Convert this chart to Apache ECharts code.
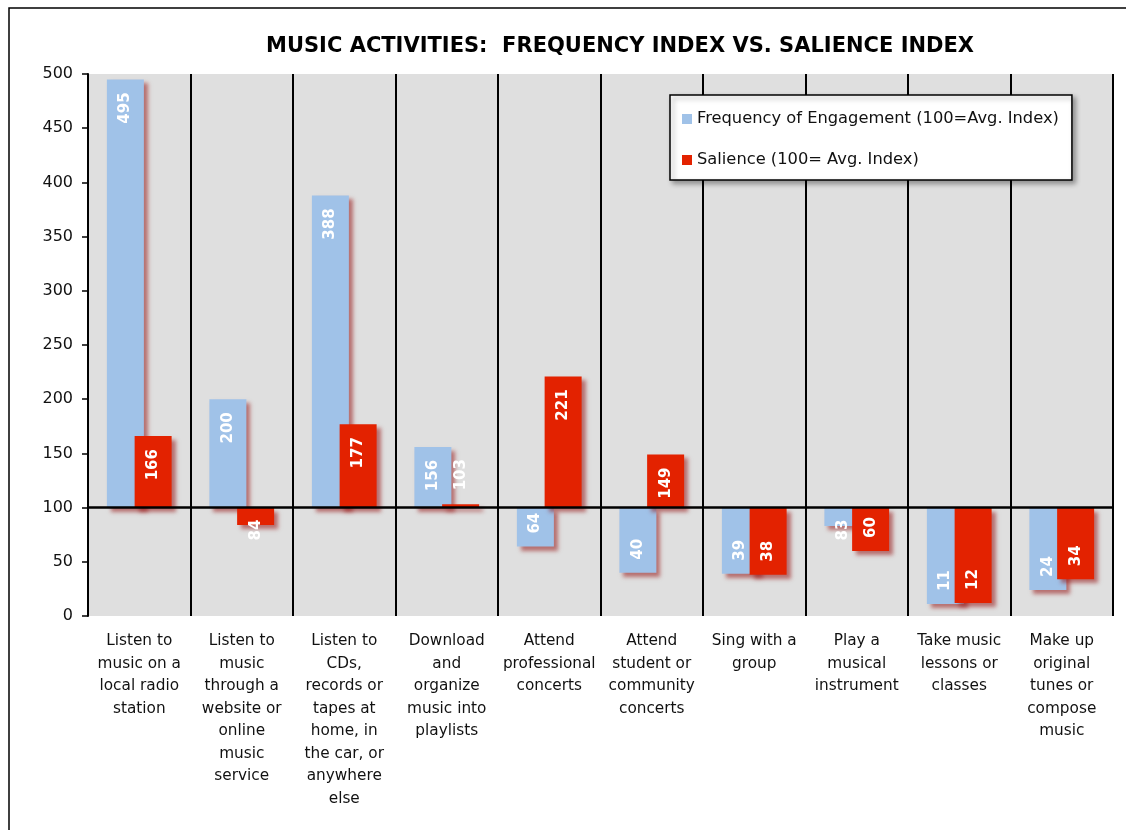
<!DOCTYPE html>
<html>
<head>
<meta charset="utf-8">
<script src="https://cdn.jsdelivr.net/npm/echarts@6/dist/echarts.min.js"></script>
<style>
html,body{margin:0;padding:0;background:#fff;}
#chart{width:1126px;height:830px;}
</style>
</head>
<body>
<div id="chart"></div>
<script>
const categories = [
  "Listen to\nmusic on a\nlocal radio\nstation",
  "Listen to\nmusic\nthrough a\nwebsite or\nonline\nmusic\nservice",
  "Listen to\nCDs,\nrecords or\ntapes at\nhome, in\nthe car, or\nanywhere\nelse",
  "Download\nand\norganize\nmusic into\nplaylists",
  "Attend\nprofessional\nconcerts",
  "Attend\nstudent or\ncommunity\nconcerts",
  "Sing with a\ngroup",
  "Play a\nmusical\ninstrument",
  "Take music\nlessons or\nclasses",
  "Make up\noriginal\ntunes or\ncompose\nmusic"
];
const frequencyIndex = [495, 200, 388, 156, 64, 40, 39, 83, 11, 24];
const salienceIndex  = [166, 84, 177, 103, 221, 149, 38, 60, 12, 34];
const baseline = 100;
const seriesNames = ["Frequency of Engagement (100=Avg. Index)", "Salience (100= Avg. Index)"];
const yTicks = {min: 0, max: 500, interval: 50};

const FONT = "DejaVu Sans";
const colors = ["#a0c2e8", "#e32200"];

function baseData(vals){ return vals.map(v => Math.min(v, baseline)); }
function deltaData(vals){
  return vals.map(v => {
    const d = Math.abs(v - baseline);
    const up = v >= baseline;
    const short = d < 20;
    let label;
    if (up && !short) label = {position:'insideTop', align:'right', distance:13};
    else if (up && short) label = {position:'top', align:'left', distance:14};
    else if (!up && !short) label = {position:'insideBottom', align:'left', distance:13};
    else label = {position:'insideTop', align:'right', distance:12};
    return {value: d, orig: v, label: label};
  });
}

function makeSeries(vals, idx){
  const stack = 's' + idx;
  return [
    {
      type:'bar', name:'base'+idx, stack: stack, barWidth: 37, barGap:'-25%',
      data: baseData(vals), silent:true,
      itemStyle:{color:'rgba(0,0,0,0)'},
      label:{show:false}, emphasis:{disabled:true}, z: 2
    },
    {
      type:'bar', name: seriesNames[idx], stack: stack, barWidth: 37, barGap:'-25%',
      data: deltaData(vals),
      itemStyle:{
        color: colors[idx],
        shadowColor:'rgba(150,20,20,0.55)', shadowBlur:4, shadowOffsetX:4, shadowOffsetY:4
      },
      label:{
        show:true, rotate:90, verticalAlign:'middle', color:'#ffffff',
        fontFamily: FONT, fontSize:15, fontWeight:'bold',
        formatter: p => String(p.data.orig)
      },
      emphasis:{disabled:true}, z: 2 + idx
    }
  ];
}

const series = [].concat(makeSeries(frequencyIndex, 0), makeSeries(salienceIndex, 1));
series[3].markLine = {
  silent:true, symbol:['none','none'], z: 10,
  label:{show:false},
  lineStyle:{color:'#000', width:2.5, type:'solid'},
  data:[{yAxis: baseline}]
};

const chart = echarts.init(document.getElementById('chart'));
chart.setOption({
  animation:false,
  backgroundColor:'#ffffff',
  textStyle:{fontFamily: FONT},
  graphic:[{
    type:'rect', shape:{x:9, y:8, width:1140, height:850}, silent:true,
    style:{fill:'none', stroke:'#000', lineWidth:1.5}, z:-10
  }],
  title:{
    text:'MUSIC ACTIVITIES:  FREQUENCY INDEX VS. SALIENCE INDEX',
    left: 615, top: 31, textAlign:'center',
    textStyle:{fontFamily: FONT, fontSize:21, fontWeight:'bold', color:'#000'}
  },
  legend:{
    data: seriesNames, orient:'vertical', left:670, top:95,
    icon:'rect', itemWidth:10, itemHeight:10, itemGap:25,
    backgroundColor:'#fff', borderColor:'#000', borderWidth:1.5,
    padding:[16,13,12,12],
    shadowColor:'rgba(0,0,0,0.35)', shadowBlur:5, shadowOffsetX:3, shadowOffsetY:3,
    textStyle:{fontFamily: FONT, fontSize:16.3, color:'#111', lineHeight:16},
    selectedMode:false
  },
  grid:{
    left:88, right:13, top:74, bottom:214, show:true,
    backgroundColor:'#dfdfdf', borderWidth:0
  },
  xAxis:{
    type:'category', data: categories,
    axisLine:{show:false}, axisTick:{show:false},
    splitLine:{show:true, lineStyle:{color:'#000', width:2}},
    axisLabel:{interval:0, margin:14, color:'#111', fontFamily: FONT, fontSize:15.3, lineHeight:22.5, align:'center'}
  },
  yAxis:{
    type:'value', min: yTicks.min, max: yTicks.max, interval: yTicks.interval,
    axisLine:{show:true, lineStyle:{color:'#000', width:2}},
    axisTick:{show:true, length:6, lineStyle:{color:'#000', width:1.5}},
    splitLine:{show:false},
    axisLabel:{color:'#111', fontFamily: FONT, fontSize:16, margin:15}
  },
  series: series
});
</script>
</body>
</html>
